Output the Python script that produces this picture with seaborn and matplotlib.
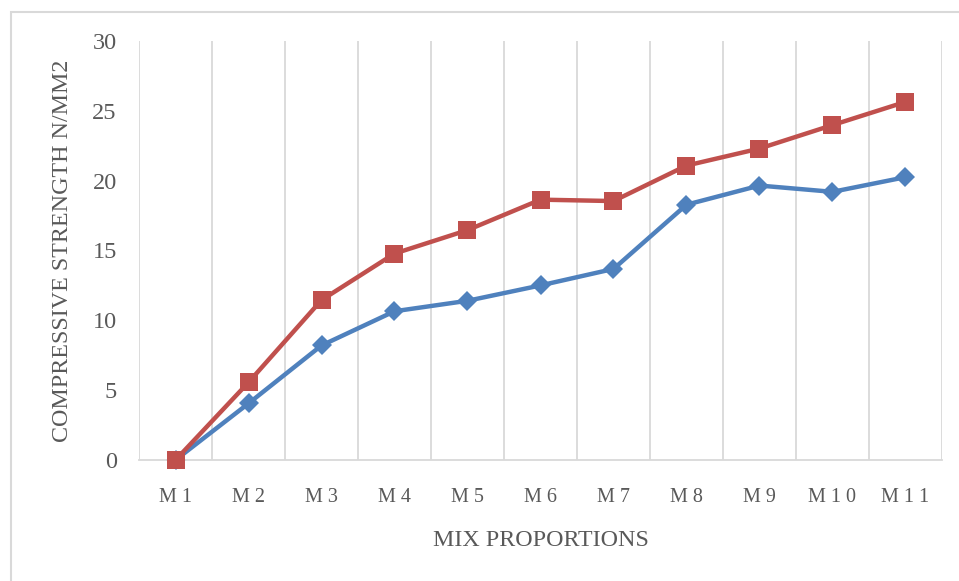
import matplotlib
matplotlib.use("Agg")
import matplotlib.pyplot as plt
from matplotlib.patches import Rectangle
import seaborn as sns
import pandas as pd

# Mix designs and their compressive strengths (N/mm2)
mixes = ["M1", "M2", "M3", "M4", "M5", "M6", "M7", "M8", "M9", "M10", "M11"]
strength_a = [0.0, 4.05, 8.2, 10.65, 11.4, 12.5, 13.68, 18.28, 19.65, 19.2, 20.25]
strength_b = [0.0, 5.56, 11.45, 14.78, 16.46, 18.64, 18.54, 21.08, 22.3, 23.98, 25.64]
series_names = ["Series A", "Series B"]

df = pd.concat([
    pd.DataFrame({"mix": mixes, "strength": strength_a, "series": series_names[0]}),
    pd.DataFrame({"mix": mixes, "strength": strength_b, "series": series_names[1]}),
])

sns.set_theme(style="white")
plt.rcParams["font.family"] = ["Liberation Serif", "DejaVu Serif"]

W, H = 959, 581
fig = plt.figure(figsize=(W / 100, H / 100), dpi=100)
ax = fig.add_axes([139 / W, 1 - 460 / H, (942 - 139) / W, (460 - 41) / H])

text_col = "#595959"
grid_col = "#D9D9D9"
palette = {series_names[0]: "#4F81BD", series_names[1]: "#C0504D"}

sns.lineplot(
    data=df, x="mix", y="strength", hue="series", style="series",
    palette=palette, markers={series_names[0]: "D", series_names[1]: "s"},
    dashes=False, linewidth=3.2, markeredgewidth=0, legend=False, ax=ax,
    sort=False,
)
# marker sizes per series
lines = ax.get_lines()
lines[0].set_markersize(10.5)
lines[1].set_markersize(12.8)
lines[1].set_zorder(3)
lines[0].set_zorder(2)

n = len(mixes)
ax.set_xlim(-0.5, n - 0.5)
ax.set_ylim(0, 30)
ax.set_yticks([0, 5, 10, 15, 20, 25, 30])
ax.set_xticks(range(n))
# category labels are letter-spaced
ax.set_xticklabels([" ".join(m) for m in mixes])

# vertical gridlines at category boundaries
for b in range(n + 1):
    ax.axvline(b - 0.5, color=grid_col, linewidth=1.3, zorder=0)

for s in ["top", "right", "left"]:
    ax.spines[s].set_visible(False)
ax.spines["bottom"].set_color(grid_col)
ax.spines["bottom"].set_linewidth(1.3)
for ln in lines:
    ln.set_clip_on(False)

ax.tick_params(axis="both", length=0, colors=text_col)
ax.tick_params(axis="y", labelsize=17.5, pad=16)
ax.tick_params(axis="x", labelsize=14.5, pad=20)
ax.set_xlabel("MIX PROPORTIONS", fontsize=17.3, color=text_col)
ax.set_ylabel("COMPRESSIVE STRENGTH N/MM2", fontsize=17.3, color=text_col)
ax.xaxis.set_label_coords(0.5, (460 - 530) / 419)
ax.yaxis.set_label_coords((73 - 139) / 803, 0.5)

# chart-area border
fig.patches.append(Rectangle((11 / W, -0.1), 1.2, 1 - 12 / H + 0.1,
                             transform=fig.transFigure, fill=False,
                             edgecolor=grid_col, linewidth=1.5))

fig.savefig("out.png", dpi=100)
